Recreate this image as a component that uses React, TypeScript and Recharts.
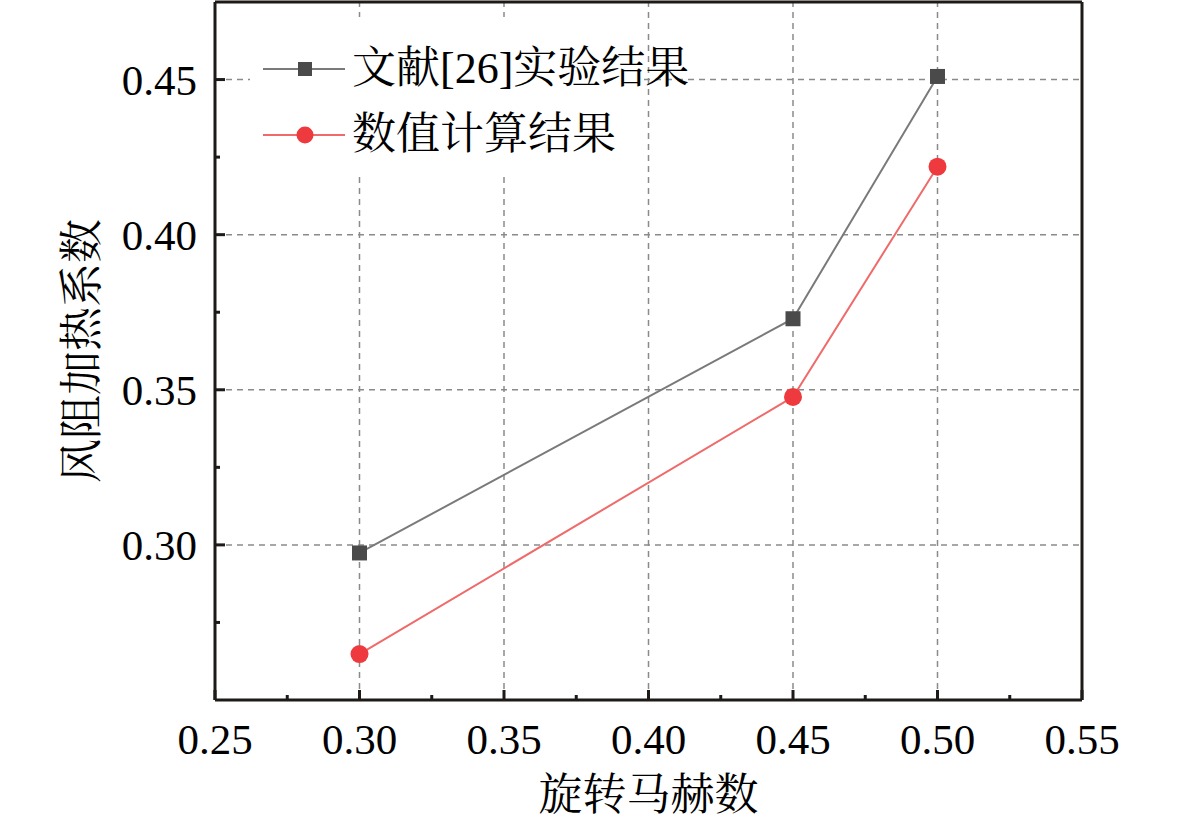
import { LineChart, Line, XAxis, YAxis, ReferenceLine } from "recharts";

const machNumbers = [0.3, 0.45, 0.5];
const experimentValues = [0.2974, 0.3729, 0.451];
const numericalValues = [0.2648, 0.3477, 0.4219];

const xMajorTicks = [0.25, 0.3, 0.35, 0.4, 0.45, 0.5, 0.55];
const xMinorTicks = [0.275, 0.325, 0.375, 0.425, 0.475, 0.525];
const yMajorTicks = [0.3, 0.35, 0.4, 0.45];
const yMinorTicks = [0.275, 0.325, 0.375, 0.425];
const xGrid = [0.3, 0.35, 0.4, 0.45, 0.5];
const yGrid = [0.3, 0.35, 0.4, 0.45];
const xDomain = [0.25, 0.55];
const yDomain = [0.25, 0.475];

const experimentName = "文献[26]实验结果";
const numericalName = "数值计算结果";

const data = machNumbers.map((m, i) => ({
  mach: m,
  experiment: experimentValues[i],
  numerical: numericalValues[i],
}));

const AXIS = "#1e1a18";
const GRID = "#8a8a8a";
const FONT = '"Liberation Serif", "Noto Serif CJK SC", "Noto Sans CJK SC", serif';

const isMajor = (v: number, majors: number[]) =>
  majors.some((m) => Math.abs(m - v) < 1e-6);

function XTick(props: any) {
  const { x, y, payload } = props;
  const major = isMajor(payload.value, xMajorTicks);
  return (
    <g>
      <line x1={x} x2={x} y1={y} y2={y - (major ? 10 : 5)} stroke={AXIS} strokeWidth={3} />
      {major && (
        <text x={x} y={y + 54} textAnchor="middle" fontSize={43} fontFamily={FONT} fill="#000">
          {payload.value.toFixed(2)}
        </text>
      )}
    </g>
  );
}

function YTick(props: any) {
  const { x, y, payload } = props;
  const major = isMajor(payload.value, yMajorTicks);
  const ax = x + 18;
  return (
    <g>
      <line x1={ax} x2={ax + (major ? 10 : 5)} y1={y} y2={y} stroke={AXIS} strokeWidth={3} />
      {major && (
        <text x={x} y={y + 15} textAnchor="end" fontSize={43} fontFamily={FONT} fill="#000">
          {payload.value.toFixed(2)}
        </text>
      )}
    </g>
  );
}

const SquareDot = (p: any) => (
  <rect key={p.index} x={p.cx - 7.5} y={p.cy - 7.5} width={15} height={15} fill="#4a4a4a" />
);

function LegendBox() {
  const rows = [
    { name: experimentName, line: "#7a7a7a", marker: "square" },
    { name: numericalName, line: "#f06a6a", marker: "circle" },
  ];
  return (
    <div
      style={{
        position: "absolute",
        left: 250,
        top: 17,
        width: 390,
        height: 160,
        background: "#fff",
      }}
    >
      {rows.map((r, i) => (
        <div
          key={r.name}
          style={{
            position: "absolute",
            left: 0,
            top: 52 + i * 66 - 33,
            height: 66,
            display: "flex",
            alignItems: "center",
            whiteSpace: "nowrap",
          }}
        >
          <svg width={102} height={66} style={{ display: "block" }}>
            <line x1={13} x2={95} y1={33} y2={33} stroke={r.line} strokeWidth={2} />
            {r.marker === "square" ? (
              <rect x={48} y={26} width={14} height={14} fill="#4a4a4a" />
            ) : (
              <circle cx={55} cy={33} r={8.5} fill="#ee3a3e" />
            )}
          </svg>
          <span style={{ fontFamily: FONT, fontSize: 44, color: "#000", lineHeight: "66px" }}>
            {r.name}
          </span>
        </div>
      ))}
    </div>
  );
}

export default function App() {
  return (
    <div style={{ position: "absolute", left: 0, top: 0, width: 1181, height: 823, background: "#fff" }}>
      <LineChart
        width={1181}
        height={823}
        data={data}
        margin={{ top: 2, right: 99, bottom: 0, left: 0 }}
      >
        {xGrid.map((v) => (
          <ReferenceLine key={"gx" + v} x={v} stroke={GRID} strokeWidth={1.5} strokeDasharray="6 5" />
        ))}
        {yGrid.map((v) => (
          <ReferenceLine key={"gy" + v} y={v} stroke={GRID} strokeWidth={1.5} strokeDasharray="6 5" />
        ))}
        <ReferenceLine x={xDomain[1]} stroke={AXIS} strokeWidth={3} />
        <ReferenceLine y={yDomain[1]} stroke={AXIS} strokeWidth={3} />
        <XAxis
          dataKey="mach"
          type="number"
          domain={xDomain}
          ticks={[...xMajorTicks, ...xMinorTicks].sort((a, b) => a - b)}
          interval={0}
          height={123}
          tickSize={0}
          tickMargin={0}
          tick={<XTick />}
          axisLine={{ stroke: AXIS, strokeWidth: 3 }}
          tickLine={false}
          label={(p: any) => {
            const vb = p.viewBox;
            return (
              <text
                x={vb.x + vb.width / 2}
                y={vb.y + 95}
                textAnchor="middle"
                dominantBaseline="central"
                fontSize={44}
                fontFamily={FONT}
                fill="#000"
              >
                旋转马赫数
              </text>
            );
          }}
        />
        <YAxis
          type="number"
          domain={yDomain}
          ticks={[...yMajorTicks, ...yMinorTicks].sort((a, b) => a - b)}
          interval={0}
          width={215}
          tickSize={0}
          tickMargin={18}
          tick={<YTick />}
          tickLine={false}
          axisLine={{ stroke: AXIS, strokeWidth: 3 }}
          label={(p: any) => {
            const vb = p.viewBox;
            const cy = vb.y + vb.height / 2;
            return (
              <text
                x={82}
                y={cy}
                transform={`rotate(-90 82 ${cy})`}
                textAnchor="middle"
                dominantBaseline="central"
                fontSize={44}
                fontFamily={FONT}
                fill="#000"
              >
                风阻加热系数
              </text>
            );
          }}
        />
        <Line
          dataKey="experiment"
          name={experimentName}
          stroke="#7a7a7a"
          strokeWidth={2}
          dot={SquareDot}
          activeDot={false}
          isAnimationActive={false}
        />
        <Line
          dataKey="numerical"
          name={numericalName}
          stroke="#f06a6a"
          strokeWidth={2}
          dot={{ r: 9, fill: "#ee3a3e", stroke: "#ee3a3e", strokeWidth: 0 }}
          activeDot={false}
          isAnimationActive={false}
        />
      </LineChart>
      <LegendBox />
    </div>
  );
}
